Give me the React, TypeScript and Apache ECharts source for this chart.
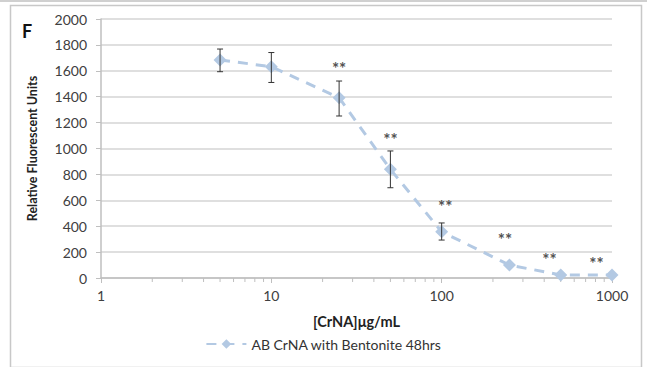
import React, { useEffect, useRef } from "react";
import * as echarts from "echarts";

const concentrations = [5, 10, 25, 50, 100, 250, 500, 1000];
const rfuValues = [1683, 1632, 1392, 839, 357, 100, 23, 23];
const errLow = [1593, 1510, 1251, 697, 293, 100, 23, 23];
const errHigh = [1768, 1741, 1521, 981, 425, 100, 23, 23];
const starX = [25, 50, 105, 235, 430, 810];
const starY = [1620, 1070, 550, 295, 145, 115];
const minorTickVals = [2, 3, 4, 5, 6, 7, 8, 9, 20, 30, 40, 50, 60, 70, 80, 90, 200, 300, 400, 500, 600, 700, 800, 900];
const seriesName = "AB CrNA with Bentonite 48hrs";

const LINE = "#b3c9e3";
const FONT = "Lato, 'Open Sans', sans-serif";

export default function App() {
  const ref = useRef<HTMLDivElement>(null);
  useEffect(() => {
    if (!ref.current) return;
    const chart = echarts.init(ref.current, null, { renderer: "svg" });
    const errData = concentrations.map((c, i) => [c, errLow[i], errHigh[i]]);
    const option: any = {
      animation: false,
      backgroundColor: "#ffffff",
      textStyle: { fontFamily: FONT },
      graphic: [
        { type: "rect", shape: { x: 10.5, y: 5.5, width: 631, height: 362 }, style: { fill: "none", stroke: "#c8c8c8", lineWidth: 1.5 }, silent: true },
        { type: "line", shape: { x1: 0, y1: 1, x2: 647, y2: 1 }, style: { stroke: "#d0d0d0", lineWidth: 2 }, silent: true },
        { type: "text", left: 22, top: 22, style: { text: "F", font: "bold 18px " + FONT, fill: "#111" } },
      ],
      grid: { left: 101, right: 35, top: 19, bottom: 89 },
      legend: {
        bottom: 11,
        left: "center",
        itemWidth: 40,
        itemHeight: 12,
        itemGap: 4,
        textStyle: { fontSize: 14, color: "#333", fontFamily: FONT },
        data: [seriesName],
      },
      xAxis: {
        type: "log",
        logBase: 10,
        min: 1,
        max: 1000,
        name: "[CrNA]μg/mL",
        nameLocation: "middle",
        nameGap: 36,
        nameTextStyle: { fontWeight: "bold", fontSize: 14.5, color: "#222", fontFamily: FONT },
        axisLine: { lineStyle: { color: "#bfbfbf", width: 1.5 } },
        axisTick: { show: true, inside: false, length: 5, lineStyle: { color: "#bfbfbf" } },
        axisLabel: { color: "#404040", fontSize: 14, margin: 10, fontFamily: FONT, formatter: (v: number) => String(Math.round(v)) },
        splitLine: { show: false },
      },
      yAxis: {
        type: "value",
        min: 0,
        max: 2000,
        interval: 200,
        name: "Relative Fluorescent Units",
        nameLocation: "middle",
        nameGap: 62,
        nameTextStyle: { fontWeight: "bold", fontSize: 12.5, color: "#222", fontFamily: FONT },
        axisLine: { show: true, lineStyle: { color: "#bfbfbf", width: 1.5 } },
        axisTick: { show: true, length: 5, lineStyle: { color: "#bfbfbf" } },
        axisLabel: { color: "#404040", fontSize: 14, margin: 14, fontFamily: FONT, formatter: (v: number) => String(v) },
        splitLine: { lineStyle: { color: "#d4d4d4", width: 1.5 } },
      },
      series: [
        {
          name: seriesName,
          type: "line",
          data: concentrations.map((c, i) => [c, rfuValues[i]]),
          symbol: "diamond",
          symbolSize: 13,
          itemStyle: { color: LINE },
          lineStyle: { color: LINE, width: 3, type: [10, 8] },
          z: 3,
        },
        {
          type: "custom",
          data: errData,
          z: 4,
          silent: true,
          renderItem: (params: any, api: any) => {
            const x = api.value(0);
            const lo = api.coord([x, api.value(1)]);
            const hi = api.coord([x, api.value(2)]);
            if (Math.abs(lo[1] - hi[1]) < 1) return { type: "group", children: [] };
            const s = { stroke: "#333", lineWidth: 1 };
            return {
              type: "group",
              children: [
                { type: "line", shape: { x1: lo[0], y1: lo[1], x2: hi[0], y2: hi[1] }, style: s },
                { type: "line", shape: { x1: lo[0] - 3, y1: lo[1], x2: lo[0] + 3, y2: lo[1] }, style: s },
                { type: "line", shape: { x1: hi[0] - 3, y1: hi[1], x2: hi[0] + 3, y2: hi[1] }, style: s },
              ],
            };
          },
        },
        {
          type: "custom",
          data: minorTickVals.map((v) => [v, 0]),
          silent: true,
          z: 2,
          renderItem: (params: any, api: any) => {
            const p = api.coord([api.value(0), 0]);
            return { type: "line", shape: { x1: p[0], y1: p[1], x2: p[0], y2: p[1] + 4 }, style: { stroke: "#bfbfbf", lineWidth: 1 } };
          },
        },
        {
          type: "scatter",
          data: starX.map((x, i) => [x, starY[i]]),
          symbolSize: 0,
          silent: true,
          label: {
            show: true,
            position: "inside",
            formatter: "**",
            color: "#222",
            fontSize: 17,
            fontWeight: "bold",
            fontFamily: FONT,
          },
        },
      ],
    };
    chart.setOption(option);
    return () => chart.dispose();
  }, []);
  return <div ref={ref} style={{ width: 647, height: 367, position: "absolute", left: 0, top: 0 }} />;
}
